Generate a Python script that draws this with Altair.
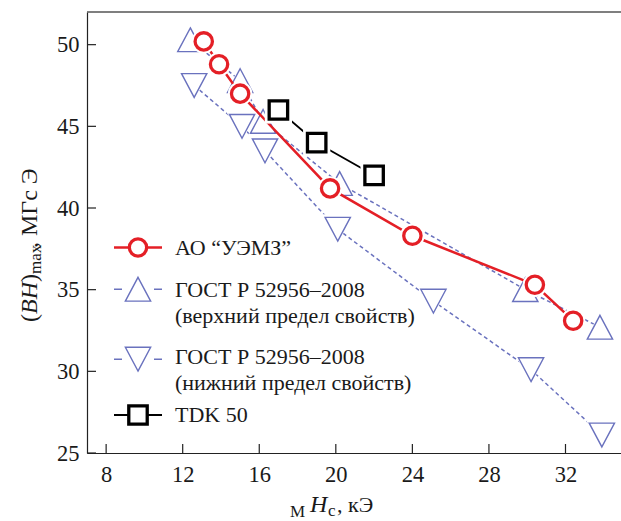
import altair as alt
import pandas as pd

# (BH)max versus coercivity MHc for several NdFeB magnet data sets
uemz_hc = [13.1, 13.9, 15.0, 19.7, 24.0, 30.4, 32.4]
uemz_bh = [50.2, 48.8, 47.0, 41.2, 38.3, 35.3, 33.1]

gost_hi_hc = [12.4, 15.0, 16.2, 20.2, 29.9, 33.8]
gost_hi_bh = [50.3, 47.8, 45.3, 41.5, 35.0, 32.7]

gost_lo_hc = [12.6, 15.1, 16.3, 20.1, 25.1, 30.2, 33.9]
gost_lo_bh = [47.5, 45.0, 43.5, 38.7, 34.3, 30.1, 26.1]

tdk_hc = [17.0, 19.0, 22.0]
tdk_bh = [46.0, 44.0, 42.0]

x_ticks = [8, 12, 16, 20, 24, 28, 32]
y_ticks = [25, 30, 35, 40, 45, 50]

# layout (pixels)
W, H = 534, 441
PAD_L, PAD_T = 87, 12
FONT = "Liberation Serif"
RED = "#e41f26"
BLUE = "#6a72be"
INK = "#1a1a1a"

TRI_UP = "M0,-0.94L1,0.94L-1,0.94Z"
TRI_DN = "M0,0.94L1,-0.94L-1,-0.94Z"

xs = alt.Scale(domain=[7, 34.9], nice=False, zero=False)
ys = alt.Scale(domain=[25, 52], nice=False, zero=False)

x_axis = alt.Axis(values=x_ticks, ticks=False, grid=False, title=None,
                  labelFont=FONT, labelFontSize=22.5, labelColor=INK,
                  labelPadding=10, domainColor="#222", domainWidth=1.2)
y_axis = alt.Axis(values=y_ticks, ticks=False, grid=False, title=None,
                  labelFont=FONT, labelFontSize=22.5, labelColor=INK,
                  labelPadding=8, domainColor="#222", domainWidth=1.2)


def frame(hc, bh):
    return pd.DataFrame({"hc": hc, "bh": bh})


def enc(chart, axes=False):
    if axes:
        return chart.encode(x=alt.X("hc:Q", scale=xs, axis=x_axis),
                            y=alt.Y("bh:Q", scale=ys, axis=y_axis))
    return chart.encode(x=alt.X("hc:Q", scale=xs), y=alt.Y("bh:Q", scale=ys))


def series_line(df, color, width, dash=None, axes=False):
    kw = dict(color=color, strokeWidth=width)
    if dash:
        kw["strokeDash"] = dash
    return enc(alt.Chart(df).mark_line(**kw), axes)


def series_pts(df, shape, color, width, size):
    return enc(alt.Chart(df).mark_point(shape=shape, filled=False, fill="white",
                                        stroke=color, strokeWidth=width,
                                        size=size, opacity=1))


def halo(df, shape, size):
    # white clearance around markers so connecting lines stop short of them
    return enc(alt.Chart(df).mark_point(shape=shape, filled=True, fill="white",
                                        strokeWidth=0, size=size, opacity=1))


d_uemz = frame(uemz_hc, uemz_bh)
d_hi = frame(gost_hi_hc, gost_hi_bh)
d_lo = frame(gost_lo_hc, gost_lo_bh)
d_tdk = frame(tdk_hc, tdk_bh)

one = alt.Data(values=[{}])

layers = [
    series_line(d_hi, BLUE, 1.5, [4, 3], axes=True),
    series_line(d_lo, BLUE, 1.5, [4, 3]),
    halo(d_hi, TRI_UP, 1000),
    halo(d_lo, TRI_DN, 1000),
    series_pts(d_hi, TRI_UP, BLUE, 1.4, 640),
    series_pts(d_lo, TRI_DN, BLUE, 1.4, 640),
    series_line(d_uemz, RED, 2.5),
    halo(d_uemz, "circle", 600),
    series_pts(d_uemz, "circle", RED, 3.3, 300),
    series_line(d_tdk, "black", 1.8),
    halo(d_tdk, "square", 740),
    series_pts(d_tdk, "square", "black", 3.3, 340),
]

# inward tick marks
layers.append(alt.Chart(pd.DataFrame({"t": x_ticks})).mark_rule(color="#222", strokeWidth=1.2)
              .encode(x=alt.X("t:Q", scale=xs), y=alt.value(H), y2=alt.value(H - 9)))
layers.append(alt.Chart(pd.DataFrame({"t": y_ticks})).mark_rule(color="#222", strokeWidth=1.2)
              .encode(y=alt.Y("t:Q", scale=ys), x=alt.value(0), x2=alt.value(9)))
# top frame line
layers.append(alt.Chart(one).mark_rule(color="#555", strokeWidth=1.6)
              .encode(x=alt.value(0), x2=alt.value(W), y=alt.value(0)))


def text(s, x, y, size=22, style="normal", angle=0, align="left", baseline="alphabetic"):
    kw = dict(text=s, font=FONT, fontSize=size, fontStyle=style, color=INK,
              align=align, baseline=baseline)
    if angle:
        kw["angle"] = angle
    return alt.Chart(one).mark_text(**kw).encode(x=alt.value(x), y=alt.value(y))


# legend
LEG_X0, LEG_X1, LEG_CX, LEG_TX = 27, 75, 51, 88
legend_rows = [
    (235.5, RED, 2.5, None, "circle", 3.3, 300, ["АО “УЭМЗ”"], [236.3]),
    (277.2, BLUE, 1.5, [8, 32], TRI_UP, 1.4, 640,
     ["ГОСТ Р 52956–2008", "(верхний предел свойств)"], [278.0, 304.0]),
    (347.2, BLUE, 1.5, [8, 32], TRI_DN, 1.4, 640,
     ["ГОСТ Р 52956–2008", "(нижний предел свойств)"], [344.7, 370.7]),
    (403.0, "black", 1.8, None, "square", 3.3, 340, ["TDK 50"], [403.0]),
]
for sy, col, lw, dash, shape, sw, size, lines, ly in legend_rows:
    kw = dict(color=col, strokeWidth=lw)
    if dash:
        kw["strokeDash"] = dash
    layers.append(alt.Chart(one).mark_rule(**kw)
                  .encode(x=alt.value(LEG_X0), x2=alt.value(LEG_X1), y=alt.value(sy)))
    layers.append(alt.Chart(one).mark_point(shape=shape, filled=False, fill="white",
                                            stroke=col, strokeWidth=sw, size=size, opacity=1)
                  .encode(x=alt.value(LEG_CX), y=alt.value(sy)))
    for s, yy in zip(lines, ly):
        layers.append(text(s, LEG_TX, yy, size=22, baseline="middle"))

# x-axis title: M H_c, кЭ
layers += [
    text("М", 203, 505, size=17),
    text("H", 223, 500, size=24, style="italic"),
    text("c", 241, 504, size=17),
    text(", кЭ", 250, 500, size=22),
]

# y-axis title: (BH)_max, МГс Э (reads bottom to top)
YX = -57
layers += [
    text("(", YX, 310, angle=270, baseline="middle", size=24),
    text("BH", YX, 302, angle=270, baseline="middle", size=24, style="italic"),
    text(")", YX, 270, angle=270, baseline="middle", size=24),
    text("max", YX + 6, 262, angle=270, baseline="middle", size=17),
    text(", МГс Э", YX, 236, angle=270, baseline="middle", size=24),
]

chart = alt.layer(*layers).properties(
    width=W, height=H,
    autosize=alt.AutoSizeParams(type="none"),
    padding={"left": PAD_L, "top": PAD_T, "right": 0, "bottom": 521 - PAD_T - H},
    background="white",
).configure_view(stroke=None)

chart.save("out.html", embed_options={"renderer": "svg", "actions": False})
